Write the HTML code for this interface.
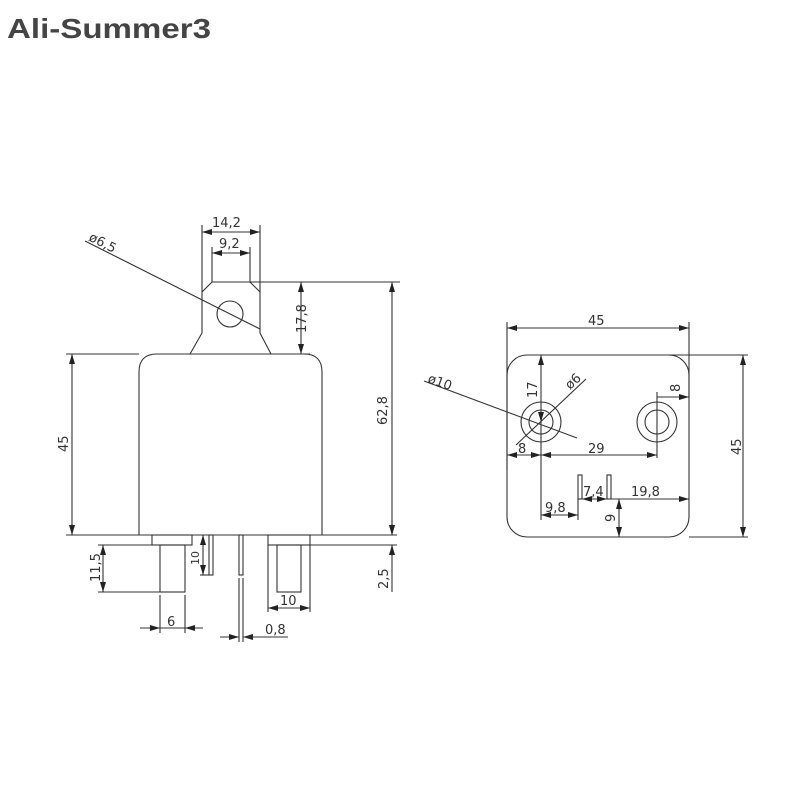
<!DOCTYPE html>
<html><head><meta charset="utf-8"><style>
html,body{margin:0;padding:0;background:#fff;}
svg{display:block}
text{font-family:"DejaVu Sans","Liberation Sans",sans-serif;fill:#333;}
</style></head><body>
<svg width="800" height="800" viewBox="0 0 800 800" xmlns="http://www.w3.org/2000/svg">
<defs>
<marker id="a" viewBox="0 0 10 6" refX="10" refY="3" markerWidth="10" markerHeight="6" markerUnits="userSpaceOnUse" orient="auto-start-reverse"><path d="M0,0 L10,3 L0,6 z" fill="#222"/></marker>
</defs>
<text x="7" y="38" font-size="28" font-weight="bold" textLength="204" lengthAdjust="spacingAndGlyphs" style="fill:#444;font-family:'Liberation Sans',sans-serif">Ali-Summer3</text>
<g stroke="#333" stroke-width="1.1" fill="none">
<path d="M139,535 L139,372 Q139,354 157,354 L304,354 Q322,354 322,372 L322,535"/>
<path d="M190,354 L202,333 L202,292 L212,282 L250,282 L260,292 L260,333 L271,354"/>
<circle cx="230" cy="314" r="13"/>
<line x1="250" y1="282" x2="400" y2="282"/>
<line x1="66" y1="354" x2="139" y2="354"/>
<line x1="271" y1="354" x2="310" y2="354"/>
<line x1="66" y1="535" x2="397" y2="535"/>
<line x1="202" y1="225" x2="202" y2="292"/>
<line x1="260" y1="225" x2="260" y2="292"/>
<line x1="202" y1="232" x2="260" y2="232" marker-start="url(#a)" marker-end="url(#a)"/>
<line x1="212" y1="247" x2="212" y2="282"/>
<line x1="250" y1="247" x2="250" y2="282"/>
<line x1="212" y1="253" x2="250" y2="253" marker-start="url(#a)" marker-end="url(#a)"/>
<line x1="85" y1="241" x2="260" y2="329"/>
<line x1="301" y1="282" x2="301" y2="354" marker-start="url(#a)" marker-end="url(#a)"/>
<line x1="392" y1="282" x2="392" y2="535" marker-start="url(#a)" marker-end="url(#a)"/>
<line x1="72" y1="354" x2="72" y2="535" marker-start="url(#a)" marker-end="url(#a)"/>
<rect x="152" y="535" width="40" height="10"/>
<rect x="160" y="545" width="25" height="47"/>
<rect x="268" y="535" width="42" height="10"/>
<rect x="277" y="545" width="24" height="47"/>
<line x1="98" y1="545" x2="152" y2="545"/>
<line x1="98" y1="592" x2="160" y2="592"/>
<line x1="310" y1="545" x2="397" y2="545"/>
<line x1="103" y1="545" x2="103" y2="592" marker-start="url(#a)" marker-end="url(#a)"/>
<rect x="209" y="535" width="4" height="40"/>
<line x1="200" y1="575" x2="209" y2="575"/>
<line x1="203" y1="535" x2="203" y2="575" marker-start="url(#a)" marker-end="url(#a)"/>
<rect x="239" y="535" width="4" height="40"/>
<line x1="239" y1="578" x2="239" y2="642"/>
<line x1="243" y1="578" x2="243" y2="642"/>
<line x1="220" y1="637" x2="239" y2="637" marker-end="url(#a)"/>
<line x1="262" y1="637" x2="243" y2="637" marker-end="url(#a)"/>
<line x1="243" y1="637" x2="288" y2="637"/>
<line x1="160" y1="595" x2="160" y2="633"/>
<line x1="185" y1="595" x2="185" y2="633"/>
<line x1="140" y1="628" x2="160" y2="628" marker-end="url(#a)"/>
<line x1="203" y1="628" x2="185" y2="628" marker-end="url(#a)"/>
<line x1="160" y1="628" x2="185" y2="628"/>
<line x1="268" y1="545" x2="268" y2="612"/>
<line x1="310" y1="545" x2="310" y2="612"/>
<line x1="268" y1="608" x2="310" y2="608" marker-start="url(#a)" marker-end="url(#a)"/>
<line x1="392" y1="520" x2="392" y2="535" marker-end="url(#a)"/>
<line x1="392" y1="592" x2="392" y2="545" marker-end="url(#a)"/>

<rect x="507" y="355" width="182" height="182" rx="20" ry="20"/>
<line x1="507" y1="322" x2="507" y2="470"/>
<line x1="689" y1="322" x2="689" y2="397"/>
<line x1="507" y1="328" x2="689" y2="328" marker-start="url(#a)" marker-end="url(#a)"/>
<line x1="540" y1="355" x2="748" y2="355"/>
<line x1="689" y1="537" x2="748" y2="537"/>
<line x1="743" y1="355" x2="743" y2="537" marker-start="url(#a)" marker-end="url(#a)"/>
<circle cx="541" cy="422" r="20"/>
<circle cx="541" cy="422" r="12"/>
<circle cx="657" cy="422" r="20"/>
<circle cx="657" cy="422" r="12"/>
<line x1="541" y1="355" x2="541" y2="422" marker-start="url(#a)" marker-end="url(#a)"/>
<line x1="541" y1="422" x2="541" y2="520"/>
<line x1="657" y1="392" x2="657" y2="458"/>
<line x1="507" y1="455" x2="541" y2="455" marker-start="url(#a)" marker-end="url(#a)"/>
<line x1="541" y1="455" x2="657" y2="455" marker-start="url(#a)" marker-end="url(#a)"/>
<line x1="657" y1="397" x2="689" y2="397" marker-end="url(#a)"/>
<line x1="424" y1="381" x2="577" y2="438"/>
<line x1="516" y1="445" x2="586" y2="379"/>
<rect x="578" y="475" width="4" height="24"/>
<rect x="607" y="475" width="4" height="24"/>
<line x1="578" y1="499" x2="578" y2="520"/>
<line x1="541" y1="515" x2="578" y2="515" marker-start="url(#a)" marker-end="url(#a)"/>
<line x1="582" y1="499" x2="607" y2="499" marker-start="url(#a)" marker-end="url(#a)"/>
<line x1="611" y1="499" x2="689" y2="499" marker-end="url(#a)"/>
<line x1="619" y1="499" x2="619" y2="537" marker-start="url(#a)" marker-end="url(#a)"/>
</g>
<g font-size="13">
<text x="212" y="227">14,2</text>
<text x="219" y="248">9,2</text>
<text x="88" y="240" transform="rotate(27 88 240)">ø6,5</text>
<text transform="translate(306 333) rotate(-90)">17,8</text>
<text transform="translate(387 425) rotate(-90)">62,8</text>
<text transform="translate(68 452) rotate(-90)">45</text>
<text transform="translate(100 582) rotate(-90)">11,5</text>
<text transform="translate(199 565) rotate(-90)" font-size="11">10</text>
<text transform="translate(388 589) rotate(-90)">2,5</text>
<text x="167" y="626">6</text>
<text x="280" y="605">10</text>
<text x="265" y="634">0,8</text>
<text x="588" y="325">45</text>
<text transform="translate(741 455) rotate(-90)">45</text>
<text x="427" y="382" transform="rotate(20 427 382)">ø10</text>
<text transform="translate(537 398) rotate(-90)">17</text>
<text x="570" y="390" transform="rotate(-43 570 390)">ø6</text>
<text transform="translate(680 392) rotate(-90)">8</text>
<text x="518" y="453">8</text>
<text x="588" y="453">29</text>
<text x="545" y="512">9,8</text>
<text x="583" y="496">7,4</text>
<text x="631" y="496">19,8</text>
<text transform="translate(615 522) rotate(-90)">9</text>
</g>
</svg>
</body></html>
